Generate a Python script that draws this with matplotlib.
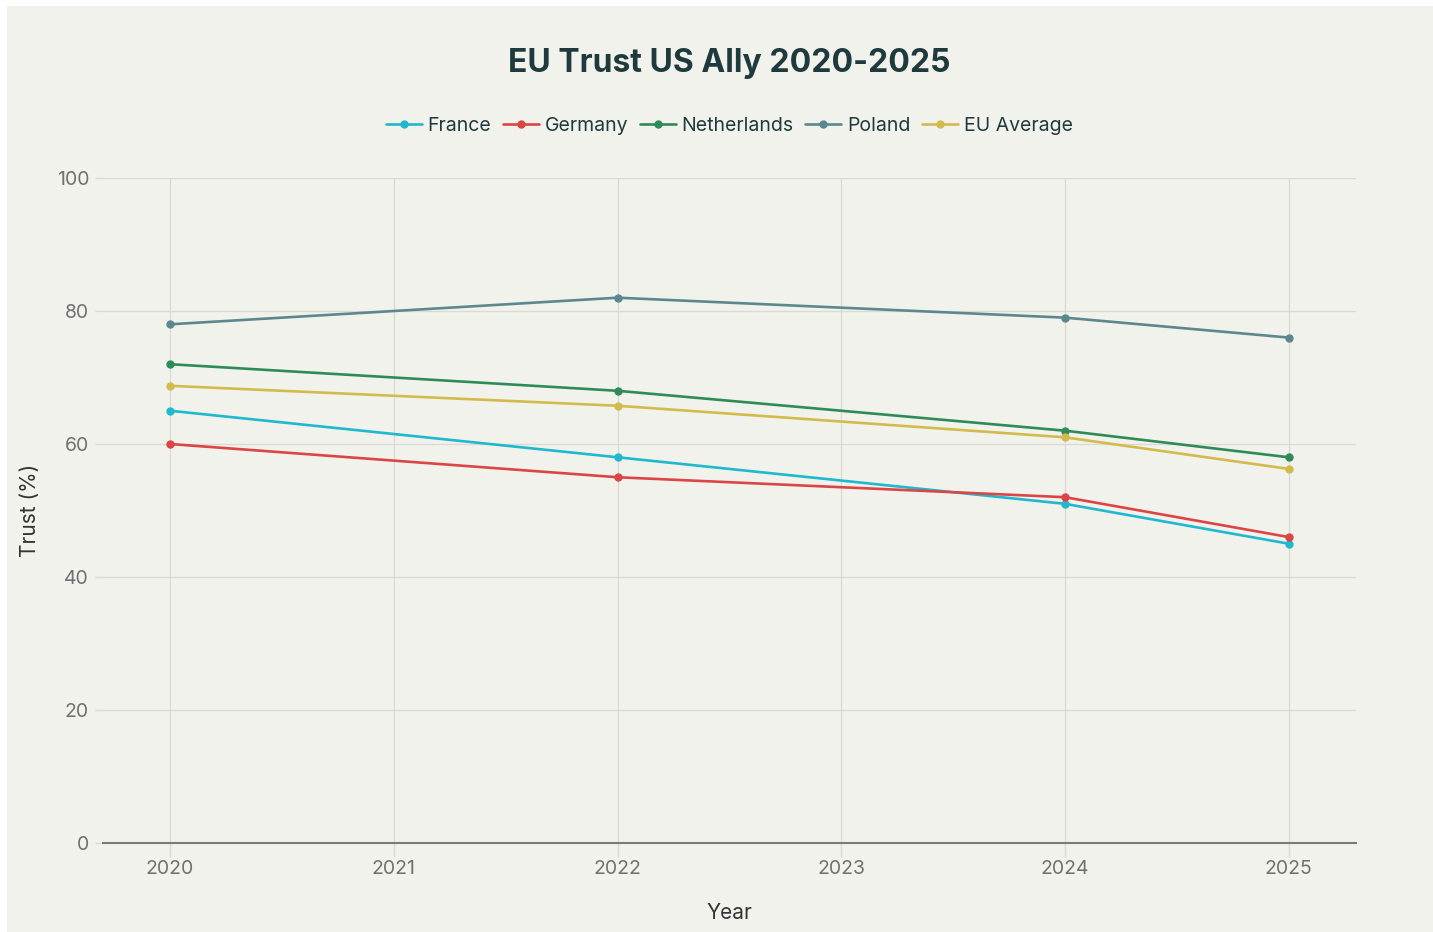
import matplotlib.pyplot as plt
from matplotlib.patches import Rectangle

# Survey values: share trusting the US as an ally
years = [2020, 2022, 2024, 2025]
france = [65, 58, 51, 45]
germany = [60, 55, 52, 46]
netherlands = [72, 68, 62, 58]
poland = [78, 82, 79, 76]
eu_average = [68.75, 65.75, 61, 56.25]

series_names = ['France', 'Germany', 'Netherlands', 'Poland', 'EU Average']
series_values = [france, germany, netherlands, poland, eu_average]
series_colors = ['#1FB8CD', '#DB4545', '#2E8B57', '#5D878F', '#D2BA4C']

bg = '#F2F2ED'
dark = '#1F3A3D'
tick_grey = '#707070'

plt.rcParams['font.family'] = ['Inter', 'DejaVu Sans']

fig = plt.figure(figsize=(14.33, 9.32), dpi=100, facecolor='white')
fig.patches.append(Rectangle((7 / 1433, 0), 1 - 7 / 1433, 1 - 6 / 932,
                             transform=fig.transFigure, facecolor=bg,
                             edgecolor='none', zorder=-10))

ax = fig.add_axes([103 / 1433, 89 / 932, 1253 / 1433, 665 / 932])
ax.set_facecolor(bg)

for name, vals, col in zip(series_names, series_values, series_colors):
    ax.plot(years, vals, color=col, lw=1.9, marker='o', markersize=5,
            label=name, zorder=3, solid_capstyle='round')

ax.set_xlim(2019.70, 2025.30)
ax.set_ylim(0, 100)
ax.set_xticks(range(2020, 2026))
ax.set_yticks([0, 20, 40, 60, 80, 100])
ax.grid(True, color='#DADAD5', lw=0.9)
ax.set_axisbelow(True)

for side in ['top', 'right', 'left']:
    ax.spines[side].set_visible(False)
ax.spines['bottom'].set_color('#7A7A7A')
ax.spines['bottom'].set_linewidth(1.5)

ax.tick_params(axis='x', length=10, width=1, color='#DADAD5', pad=2,
               labelsize=14, labelcolor=tick_grey)
ax.tick_params(axis='y', length=6, width=1, color='#DADAD5', pad=4,
               labelsize=14, labelcolor=tick_grey)

ax.set_xlabel('Year', fontsize=15, color='#333333', labelpad=18)
ax.set_ylabel('Trust (%)', fontsize=15, color='#333333', labelpad=12)

fig.text(0.509, 0.932, 'EU Trust US Ally 2020-2025', ha='center', va='center',
         fontsize=23, fontweight='bold', color=dark)

leg = fig.legend(loc='center', bbox_to_anchor=(0.509, 0.865), ncol=5,
                 frameon=False, fontsize=14, handlelength=1.85,
                 handletextpad=0.3, columnspacing=0.6)
for t in leg.get_texts():
    t.set_color(dark)

fig.savefig('out.png', dpi=100, facecolor='white')
